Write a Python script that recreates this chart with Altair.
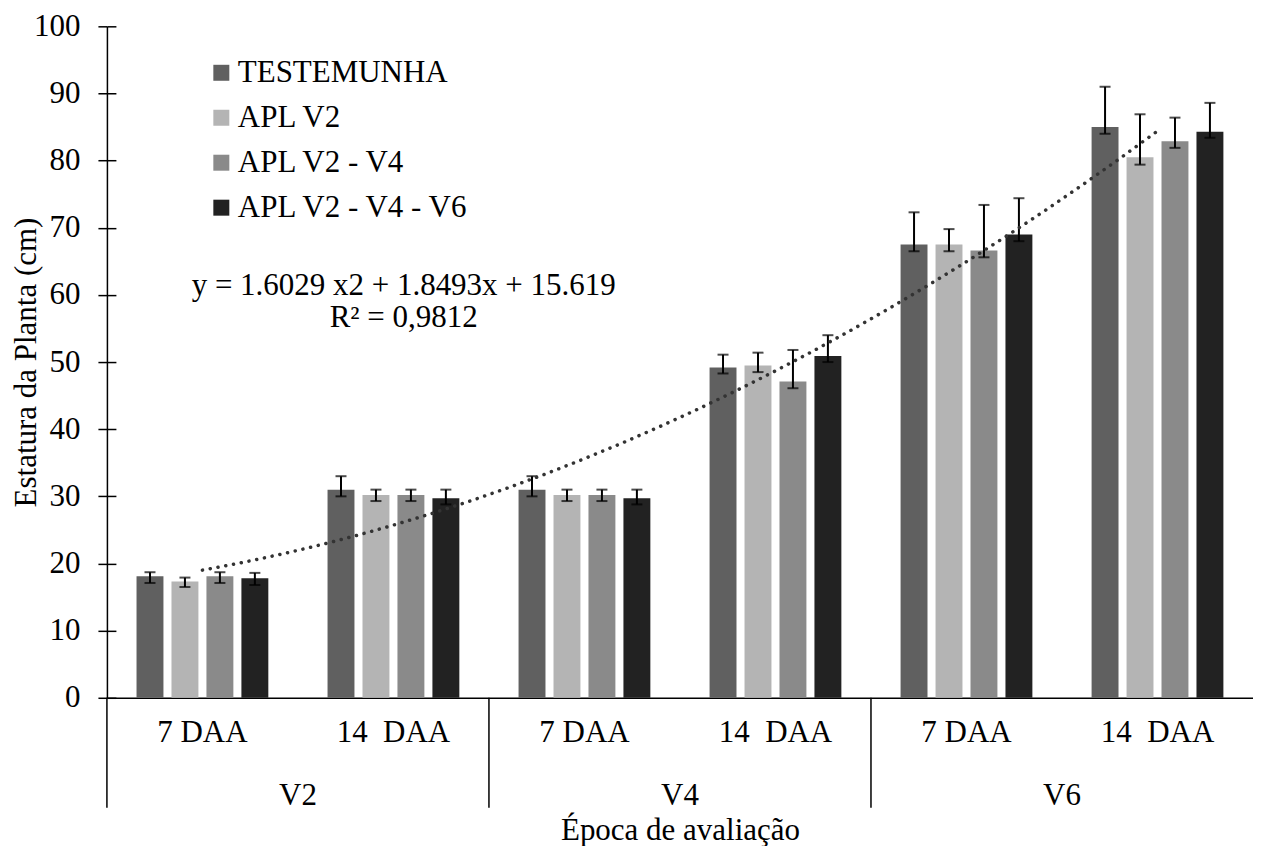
import altair as alt
import pandas as pd

# ---------------- data ----------------
stages = ["V2", "V2", "V4", "V4", "V6", "V6"]
days = ["7 DAA", "14\u00a0 DAA", "7 DAA", "14\u00a0 DAA", "7 DAA", "14\u00a0 DAA"]
treatments = ["TESTEMUNHA", "APL V2", "APL V2 - V4", "APL V2 - V4 - V6"]
colors = ["#606060", "#b4b4b4", "#8a8a8a", "#222222"]

testemunha = [18.1, 31.0, 31.0, 49.2, 67.5, 85.0]
apl_v2 = [17.3, 30.2, 30.2, 49.5, 67.5, 80.5]
apl_v2_v4 = [18.1, 30.2, 30.2, 47.1, 66.6, 82.9]
apl_v2_v4_v6 = [17.8, 29.7, 29.7, 50.9, 69.0, 84.3]

testemunha_hi = [18.7, 33.0, 33.0, 51.1, 72.3, 91.0]
apl_v2_hi = [17.9, 31.0, 31.0, 51.4, 69.8, 86.9]
apl_v2_v4_hi = [18.7, 31.0, 31.0, 51.8, 73.4, 86.4]
apl_v2_v4_v6_hi = [18.6, 31.0, 31.0, 54.0, 74.4, 88.6]

testemunha_lo = [17.1, 30.0, 30.0, 48.3, 66.5, 84.0]
apl_v2_lo = [16.5, 29.3, 29.3, 48.5, 66.5, 79.4]
apl_v2_v4_lo = [17.1, 29.3, 29.3, 46.1, 65.6, 81.9]
apl_v2_v4_v6_lo = [16.8, 28.8, 28.8, 50.0, 68.0, 83.4]

equation_lines = ["y = 1.6029 x2 + 1.8493x + 15.619", "R\u00b2 = 0,9812"]

means = [testemunha, apl_v2, apl_v2_v4, apl_v2_v4_v6]
highs = [testemunha_hi, apl_v2_hi, apl_v2_v4_hi, apl_v2_v4_v6_hi]
lows = [testemunha_lo, apl_v2_lo, apl_v2_v4_lo, apl_v2_v4_v6_lo]

cat_order = [f"{s}|{d}" for s, d in zip(stages, days)]
rows = []
for ti, t in enumerate(treatments):
    for ci in range(len(stages)):
        rows.append(dict(cat=cat_order[ci], idx=ci + 1, stage=stages[ci], day=days[ci],
                         trat=t, value=means[ti][ci], hi=highs[ti][ci], lo=lows[ti][ci]))
df = pd.DataFrame(rows)

FONT = "Liberation Serif"
FS = 31
H = 672

y_scale = alt.Scale(domain=[0, 100], nice=False)
y_axis = alt.Axis(values=list(range(0, 101, 10)), tickSize=9, labelPadding=18,
                  title="Estatura da Planta (cm)", titlePadding=-9, grid=False,
                  domainColor="black", tickColor="black", domainWidth=1.5, tickWidth=1.5,
                  labelFont=FONT, labelFontSize=FS, labelColor="black",
                  titleFont=FONT, titleFontSize=FS, titleColor="black", titleFontWeight="normal")

x_band = alt.X("cat:N", sort=cat_order,
               scale=alt.Scale(paddingInner=0.31, paddingOuter=0.155),
               axis=alt.Axis(title="Época de avaliação", labelExpr="split(datum.label, '|')[1]",
                             labelAngle=0, ticks=False, tickSize=0, labelPadding=20,
                             domainColor="black", domainWidth=1.5, titlePadding=68,
                             labelFont=FONT, labelFontSize=FS, labelColor="black",
                             titleFont=FONT, titleFontSize=FS, titleColor="black",
                             titleFontWeight="normal"))
x_off = alt.XOffset("trat:N", sort=treatments, scale=alt.Scale(paddingInner=0.23, paddingOuter=0))

base = alt.Chart(df)

bars = base.mark_bar().encode(
    x=x_band, xOffset=x_off,
    y=alt.Y("value:Q", scale=y_scale, axis=y_axis),
    color=alt.Color("trat:N", sort=treatments,
                    scale=alt.Scale(domain=treatments, range=colors),
                    legend=alt.Legend(title=None, orient="none", legendX=99, legendY=31,
                                      symbolType="square", symbolSize=256, symbolStrokeWidth=0,
                                      labelFont=FONT, labelFontSize=FS, labelColor="black",
                                      labelOffset=1, rowPadding=13, padding=0,
                                      labelLimit=600)),
)

err = base.mark_rule(color="black", strokeWidth=2).encode(
    x=x_band, xOffset=x_off,
    y=alt.Y("lo:Q", scale=y_scale, axis=y_axis), y2="hi:Q",
)
cap_hi = base.mark_tick(color="black", thickness=2, size=11).encode(
    x=x_band, xOffset=x_off, y=alt.Y("hi:Q", scale=y_scale, axis=y_axis))
cap_lo = base.mark_tick(color="black", thickness=2, size=11).encode(
    x=x_band, xOffset=x_off, y=alt.Y("lo:Q", scale=y_scale, axis=y_axis))

layer_a = alt.layer(bars, err, cap_hi, cap_lo)

x_lin = alt.Scale(domain=[0.5, 6.5], nice=False, zero=False)

trend = base.transform_regression("idx", "value", method="poly", order=2).mark_line(
    color="#333333", strokeWidth=3.5, strokeDash=[0.1, 7.8], strokeCap="round"
).encode(
    x=alt.X("idx:Q", scale=x_lin, axis=None),
    y=alt.Y("value:Q", scale=y_scale,
            axis=alt.Axis(orient="left", offset=-9, tickSize=9, labels=False, domain=False,
                          title=None, grid=False, values=list(range(0, 101, 10)),
                          tickColor="black", tickWidth=1.5)),
)

groups = base.transform_aggregate(center="mean(idx)", groupby=["stage"]).mark_text(
    font=FONT, fontSize=FS, color="black", baseline="middle"
).encode(x=alt.X("center:Q", scale=x_lin, axis=None), y=alt.value(H + 98), text="stage:N")

seps = base.transform_aggregate(first="min(idx)", groupby=["stage"]).transform_calculate(
    bound="datum.first - 0.5"
).mark_rule(color="black", strokeWidth=1.5).encode(
    x=alt.X("bound:Q", scale=x_lin, axis=None), y=alt.value(H), y2=alt.value(H + 110))

eq = alt.Chart(pd.DataFrame({"k": [0]})).mark_text(
    font=FONT, fontSize=FS, color="black", align="center", baseline="middle", lineHeight=32
).encode(x=alt.value(297), y=alt.value(260), text=alt.value(equation_lines))

layer_b = alt.layer(trend, groups, seps, eq)

chart = alt.layer(layer_a, layer_b).resolve_scale(x="independent").resolve_axis(
    y="independent"
).properties(
    width=1147, height=H, padding={"top": 2, "left": 2, "right": 0, "bottom": 0}
).configure_view(strokeWidth=0)

chart.save("out.html", embed_options={"renderer": "svg", "actions": False})
